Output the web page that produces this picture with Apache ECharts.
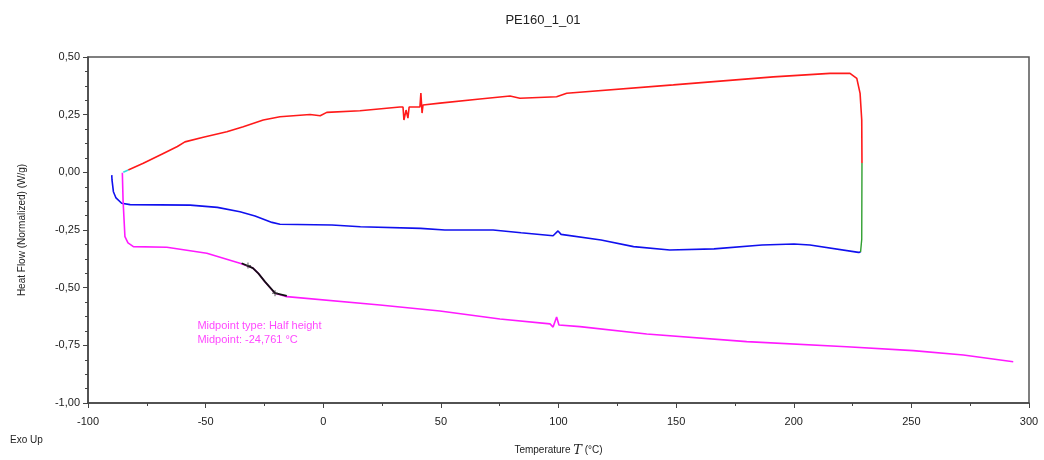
<!DOCTYPE html>
<html>
<head>
<meta charset="utf-8">
<title>PE160_1_01</title>
<script src="https://cdn.jsdelivr.net/npm/echarts@6/dist/echarts.min.js"></script>
<style>
  html, body { margin: 0; padding: 0; background: #fff; }
  #chart { width: 1044px; height: 460px; }
</style>
</head>
<body>
<div id="chart"></div>
<script>
// DSC run PE160_1_01: temperature (°C) vs normalized heat flow (W/g)
const chartTitle = 'PE160_1_01';

// first heating, start-up segment
const startSegment = [[-85.0, 0.000], [-82.9, 0.010]];

// first heating
const heating1 = [
  [-82.9, 0.010], [-76.5, 0.039], [-68.0, 0.082], [-62.0, 0.112], [-58.8, 0.132],
  [-51.0, 0.152], [-41.0, 0.176], [-34.0, 0.198], [-25.5, 0.227], [-18.4, 0.241],
  [-5.6, 0.251], [-1.3, 0.245], [1.5, 0.260], [15.6, 0.267], [32.6, 0.283], [33.9, 0.283],
  [34.3, 0.227], [35.2, 0.270], [36.0, 0.235], [36.5, 0.283], [41.1, 0.283],
  [41.5, 0.344], [42.0, 0.257], [42.4, 0.292], [49.6, 0.300], [66.6, 0.318],
  [79.4, 0.331], [83.6, 0.321], [99.2, 0.328], [103.5, 0.343], [148.8, 0.379],
  [191.3, 0.414], [215.4, 0.429], [223.9, 0.429], [226.8, 0.407], [228.2, 0.342],
  [228.9, 0.227], [229.0, 0.040]
];

// isothermal hold at the top temperature
const isothermal = [[229.0, 0.040], [228.9, -0.290], [228.4, -0.346]];

// cooling
const cooling = [
  [228.4, -0.346], [227.5, -0.347], [206.9, -0.315], [200.1, -0.311], [186.5, -0.315],
  [166.1, -0.332], [147.3, -0.337], [131.9, -0.322], [118.1, -0.293], [101.1, -0.269],
  [99.8, -0.254], [97.7, -0.275], [84.1, -0.262], [72.2, -0.250], [51.7, -0.250],
  [41.4, -0.243], [15.8, -0.236], [3.7, -0.228], [-18.4, -0.225], [-21.8, -0.217],
  [-29.0, -0.189], [-35.4, -0.171], [-45.0, -0.152], [-56.6, -0.142], [-82.1, -0.140],
  [-85.7, -0.134], [-88.1, -0.111], [-89.2, -0.084], [-89.8, -0.033], [-89.9, -0.012]
];

// second heating
const heating2 = [
  [-85.4, -0.002], [-85.1, -0.120], [-84.3, -0.279], [-83.0, -0.306], [-80.7, -0.322],
  [-66.5, -0.325], [-49.5, -0.351], [-35.4, -0.394], [-29.9, -0.415], [-27.6, -0.438],
  [-24.8, -0.474], [-20.5, -0.524], [-15.5, -0.539], [24.1, -0.575], [49.6, -0.601],
  [75.1, -0.636], [96.4, -0.657], [97.7, -0.671], [99.2, -0.627], [100.2, -0.662],
  [109.1, -0.669], [137.5, -0.701], [180.0, -0.734], [222.5, -0.756], [250.8, -0.773],
  [272.1, -0.792], [293.3, -0.821]
];

// glass transition evaluation range on the second heating
const glassTransition = [
  [-34.7, -0.394], [-29.9, -0.415], [-27.6, -0.438], [-24.8, -0.474], [-20.5, -0.524], [-15.5, -0.536]
];
const glassMarks = [[-32.0, -0.404], [-20.5, -0.524]];

const resultLines = ['Midpoint type: Half height', 'Midpoint: -24,761 °C'];
const resultAnchor = [-53.5, -0.697];

const xName = 'Temperature {i|T} (°C)';
const yName = 'Heat Flow (Normalized) (W/g)';
const cornerNote = 'Exo Up';

const fontFamily = '"Liberation Sans", Arial, sans-serif';
const comma = v => v.toFixed(2).replace('.', ',');

function line(name, data, color, width, z) {
  return {
    name, type: 'line', data, z: z || 2,
    showSymbol: false, symbol: 'none', smooth: false,
    lineStyle: { color, width: width || 1.5 },
    emphasis: { disabled: true }, silent: true
  };
}

const chart = echarts.init(document.getElementById('chart'), null, { renderer: 'canvas' });
chart.setOption({
  animation: false,
  backgroundColor: '#fff',
  title: {
    text: chartTitle, left: 538, top: 9, textAlign: 'center',
    textStyle: { fontFamily, fontSize: 13, fontWeight: 'normal', color: '#222' }
  },
  grid: {
    left: 88, right: 15, top: 57, bottom: 57,
    outerBoundsMode: 'none', containLabel: false,
    show: true, borderColor: '#555', borderWidth: 1.5, backgroundColor: 'transparent'
  },
  xAxis: {
    type: 'value', min: -100, max: 300, interval: 50,
    name: xName, nameLocation: 'middle', nameGap: 41,
    nameTextStyle: {
      fontFamily, fontSize: 10, color: '#222',
      rich: { i: { fontFamily: '"DejaVu Serif", serif', fontStyle: 'italic', fontSize: 13, color: '#222' } }
    },
    axisLine: { show: true, onZero: false, lineStyle: { color: '#444', width: 1.5 } },
    axisTick: { show: true, inside: false, length: 5, lineStyle: { color: '#444' } },
    minorTick: { show: true, splitNumber: 2, length: 3, lineStyle: { color: '#444' } },
    splitLine: { show: false },
    axisLabel: { fontFamily, fontSize: 11, color: '#222', margin: 13 }
  },
  yAxis: {
    type: 'value', min: -1, max: 0.5, interval: 0.25,
    name: yName, nameLocation: 'middle', nameGap: 61, nameRotate: 90,
    nameTextStyle: { fontFamily, fontSize: 10, color: '#222' },
    axisLine: { show: true, onZero: false, lineStyle: { color: '#444', width: 1.5 } },
    axisTick: { show: true, inside: false, length: 5, lineStyle: { color: '#444' } },
    minorTick: { show: true, splitNumber: 4, length: 3, lineStyle: { color: '#444' } },
    splitLine: { show: false },
    axisLabel: { fontFamily, fontSize: 11, color: '#222', margin: 8, formatter: comma }
  },
  series: [
    line('heating 1', heating1, '#ff1a1a', 1.6, 3),
    line('start', startSegment, '#33dddd', 1.6, 4),
    line('isothermal', isothermal, '#2e9e2e', 1.4, 3),
    line('cooling', cooling, '#1010ee', 1.6, 2),
    line('heating 2', heating2, '#ff1aff', 1.6, 2),
    line('glass transition', glassTransition, '#111', 1.8, 5),
    {
      name: 'glass marks', type: 'scatter', data: glassMarks, z: 6, silent: true,
      symbol: 'path://M0,-1V1M-1,0H1', symbolSize: 6,
      itemStyle: { color: 'none', borderColor: '#333', borderWidth: 1 }
    },
    {
      name: 'result', type: 'scatter', data: [resultAnchor], z: 6, silent: true,
      symbolSize: 0,
      label: {
        show: true, position: 'right', distance: 0, align: 'left', verticalAlign: 'middle',
        formatter: resultLines.join('\n'), lineHeight: 14,
        fontFamily, fontSize: 11, color: '#ff1aff'
      }
    }
  ],
  graphic: [{
    type: 'text', left: 10, top: 435,
    style: { text: cornerNote, fontFamily, fontSize: 10, fill: '#222' }
  }]
});
</script>
</body>
</html>
